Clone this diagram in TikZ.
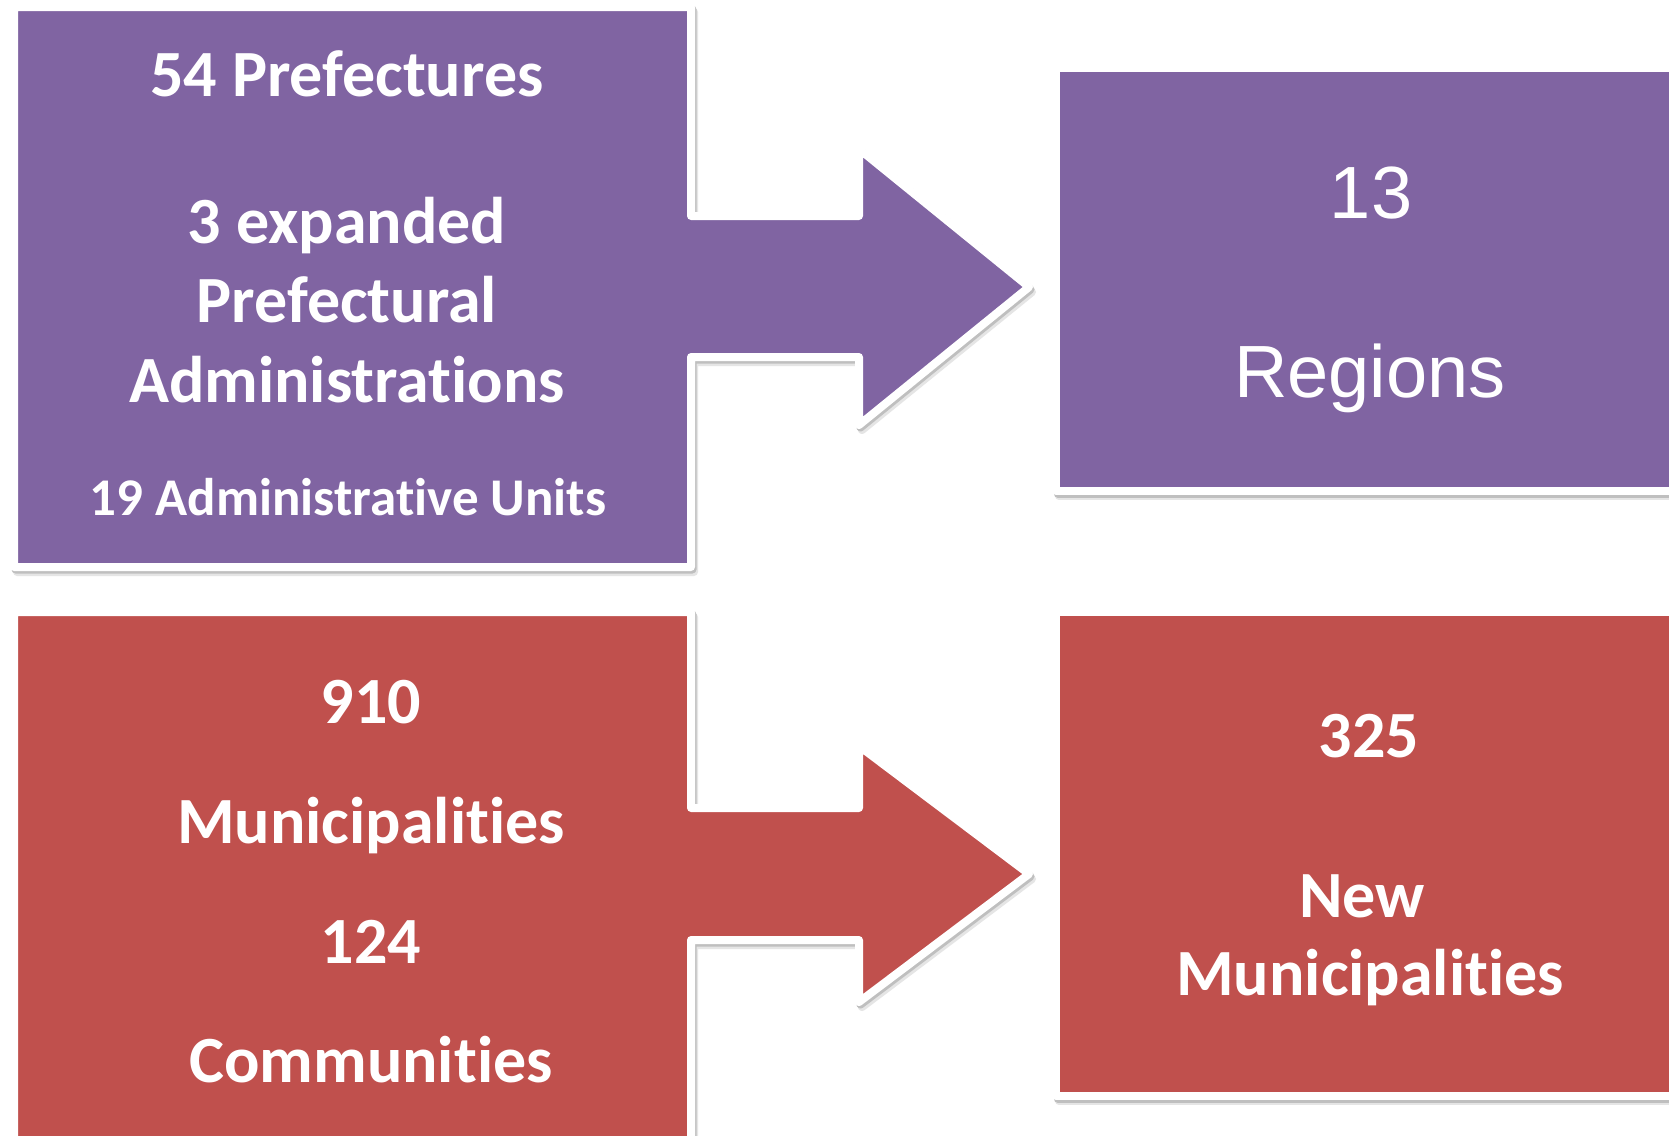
\documentclass[tikz,border=0pt]{standalone}
\usepackage{fontspec}
\newfontfamily\carlitof[Ligatures={NoCommon,NoRare,NoDiscretionary,NoContextual}]{Carlito}
\newfontfamily\arialf{Liberation Sans}
\definecolor{purp}{HTML}{8064A2}
\definecolor{redc}{HTML}{C0504D}
\tikzset{
  shapeline/.style={line width=8pt, draw=white, line join=round},
  shadowsoft/.style={fill=black!10, draw=black!10, line width=8pt, line join=round},
  shadowhard/.style={fill=black!25, draw=black!25, line width=8pt, line join=round},
  bigtxt/.style={text=white, font=\carlitof\bfseries\fontsize{66}{70}\selectfont, anchor=base, inner sep=0pt},
  midtxt/.style={text=white, font=\carlitof\bfseries\fontsize{53}{60}\selectfont, anchor=base, inner sep=0pt},
  arialtxt/.style={text=white, font=\arialf\fontsize{74}{80}\selectfont, anchor=base, inner sep=0pt}
}
\def\pathPL{(14,7) -- (691,7) -- (691,216) -- (859,216) -- (859,149) -- (1029,287) -- (859,425) -- (859,357) -- (691,357) -- (691,567) -- (14,567) -- cycle}
\def\pathPR{(1056,68) -- (1700,68) -- (1700,491) -- (1056,491) -- cycle}
\def\pathRL{(14,612) -- (691,612) -- (691,808) -- (859,808) -- (859,746) -- (1029,874) -- (859,1002) -- (859,940) -- (691,940) -- (691,1160) -- (14,1160) -- cycle}
\def\pathRR{(1056,612) -- (1700,612) -- (1700,1096) -- (1056,1096) -- cycle}
\begin{document}
\begin{tikzpicture}[x=1pt,y=-1pt]
\useasboundingbox (0,0) rectangle (1669,1135);
\clip (0,0) rectangle (1669,1135);
\fill[white] (0,0) rectangle (1669,1135);
% shadows
\begin{scope}[shift={(3,5)}]
  \path[shadowsoft] \pathPL; \path[shadowsoft] \pathPR;
  \path[shadowsoft] \pathRL; \path[shadowsoft] \pathRR;
\end{scope}
\begin{scope}[shift={(1.5,2.5)}]
  \path[shadowhard] \pathPL; \path[shadowhard] \pathPR;
  \path[shadowhard] \pathRL; \path[shadowhard] \pathRR;
\end{scope}
% shapes
\path[shapeline, fill=purp] \pathPL;
\path[shapeline, fill=purp] \pathPR;
\path[shapeline, fill=redc] \pathRL;
\path[shapeline, fill=redc] \pathRR;
% texts: top left
\node[bigtxt] (pref) at (347,96) {54 Prefectures};
\node[bigtxt] (exp) at (347,243) {3 expanded};
\node[bigtxt] (prefad) at (347,322) {Prefectural};
\node[bigtxt] (admins) at (347,402) {Administrations};
\node[midtxt] (units) at (348,515) {19 Administrative Units};
% top right
\node[arialtxt] (thirteen) at (1371,218) {13};
\node[arialtxt] (regions) at (1370,397) {Regions};
% bottom left
\node[bigtxt] (nine) at (371,723) {910};
\node[bigtxt] (munis) at (371,843) {Municipalities};
\node[bigtxt] (onetwofour) at (371,963) {124};
\node[bigtxt] (comms) at (371,1082) {Communities};
% bottom right
\node[bigtxt] (three) at (1369,757) {325};
\node[bigtxt] (new) at (1362,917) {New};
\node[bigtxt] (newmunis) at (1370,995) {Municipalities};
\end{tikzpicture}
\end{document}
